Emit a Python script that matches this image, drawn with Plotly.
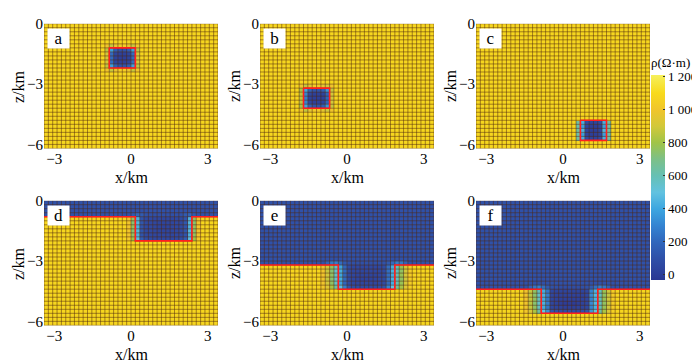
import numpy as np
import plotly.graph_objects as go

# ---------------- data ----------------
X_EDGES = np.round(np.linspace(-3.4, 3.4, 41), 3)      # km, 40 columns
Z_EDGES = np.round(np.linspace(0.0, -6.2, 32), 3)      # km, 31 rows (top -> bottom)

BG = 1080          # half-space resistivity (Ohm m)
LAYER_VAL = 105    # conductive cover layer (bottom row)

# panel a: block patch (rows 5..11, cols 14..21)
a_patch = [
    [1000, 880, 980, 1040, 1040, 980, 880, 1000],
    [860, 380, 160, 110, 110, 160, 380, 860],
    [900, 220, 40, 20, 20, 40, 220, 900],
    [900, 210, 30, 10, 10, 30, 210, 900],
    [900, 220, 40, 20, 20, 40, 220, 900],
    [860, 380, 160, 110, 110, 160, 380, 860],
    [1000, 880, 980, 1040, 1040, 980, 880, 1000],
]
# panel b: block patch (rows 15..21, cols 9..16)
b_patch = [
    [1000, 870, 960, 1030, 1030, 960, 900, 1000],
    [820, 400, 180, 120, 120, 170, 350, 880],
    [860, 300, 50, 20, 20, 40, 200, 900],
    [860, 280, 30, 10, 10, 30, 200, 900],
    [860, 300, 50, 20, 20, 40, 200, 900],
    [820, 400, 180, 120, 120, 170, 350, 880],
    [1000, 870, 960, 1030, 1030, 960, 900, 1000],
]
# panel c: block patch (rows 24..28, cols 23..30)
c_patch = [
    [640, 430, 80, 40, 40, 80, 430, 640],
    [620, 380, 40, 10, 10, 40, 380, 620],
    [640, 450, 40, 10, 10, 40, 450, 640],
    [620, 380, 40, 10, 10, 40, 380, 620],
    [640, 430, 80, 40, 40, 80, 430, 640],
]
# panel d: trough patch (rows 3..9, cols 19..35), cover layer rows 0..3
d_patch = [
    [110, 140, 200, 150, 110, 100, 100, 100, 100, 100, 100, 100, 110, 150, 200, 140, 110],
    [1000, 760, 440, 120, 70, 60, 50, 50, 50, 50, 50, 60, 70, 120, 440, 760, 1000],
    [1000, 740, 460, 130, 70, 60, 50, 40, 40, 40, 50, 60, 70, 130, 460, 740, 1000],
    [1000, 760, 440, 120, 70, 60, 50, 40, 30, 40, 50, 60, 70, 120, 440, 760, 1000],
    [1000, 740, 460, 130, 70, 60, 50, 40, 40, 40, 50, 60, 70, 130, 460, 740, 1000],
    [1000, 760, 440, 120, 70, 60, 50, 50, 50, 50, 50, 60, 70, 120, 440, 760, 1000],
    [1020, 800, 480, 160, 90, 70, 60, 60, 60, 60, 60, 70, 90, 160, 480, 800, 1020],
]
# panel e: trough patch (rows 15..21, cols 14..34), cover layer rows 0..15
e_patch = [
    [110, 180, 260, 280, 220, 140, 110, 100, 100, 100, 100, 100, 100, 100, 110, 140, 220, 280, 260, 180, 110],
    [1000, 900, 760, 560, 400, 200, 80, 60, 60, 60, 60, 60, 60, 60, 80, 220, 420, 600, 780, 920, 1040],
    [1000, 880, 740, 540, 420, 210, 70, 50, 50, 50, 50, 50, 50, 50, 70, 230, 440, 580, 760, 900, 1040],
    [1000, 900, 760, 560, 400, 200, 70, 50, 40, 40, 40, 40, 40, 50, 70, 220, 420, 600, 780, 920, 1040],
    [1000, 880, 740, 540, 420, 210, 70, 50, 40, 30, 30, 30, 40, 50, 70, 230, 440, 580, 760, 900, 1040],
    [1000, 900, 760, 560, 400, 200, 80, 60, 50, 50, 50, 50, 50, 60, 80, 220, 420, 600, 780, 920, 1040],
    [1020, 940, 820, 640, 480, 280, 120, 90, 80, 80, 80, 80, 80, 90, 120, 300, 500, 660, 820, 950, 1050],
]
# panel f: trough patch (rows 21..27, cols 11..31), cover layer rows 0..21
f_patch = [
    [110, 180, 250, 280, 230, 150, 110, 100, 90, 90, 90, 90, 90, 100, 110, 150, 230, 280, 250, 180, 110],
    [1000, 880, 760, 580, 420, 260, 60, 40, 40, 40, 40, 40, 40, 40, 60, 300, 440, 600, 780, 900, 1040],
    [1000, 860, 740, 560, 440, 280, 50, 30, 30, 30, 30, 30, 30, 30, 50, 320, 460, 580, 760, 880, 1040],
    [1000, 880, 760, 580, 420, 260, 50, 30, 20, 20, 20, 20, 20, 30, 50, 300, 440, 600, 780, 900, 1040],
    [1000, 860, 740, 560, 440, 280, 50, 30, 10, 0, 0, 0, 10, 30, 50, 320, 460, 580, 760, 880, 1040],
    [1000, 880, 760, 580, 420, 260, 60, 40, 30, 20, 20, 20, 30, 40, 60, 300, 440, 600, 780, 900, 1040],
    [1020, 920, 820, 660, 500, 340, 120, 90, 80, 80, 80, 80, 80, 90, 120, 360, 520, 660, 820, 930, 1050],
]

PANELS = [
    dict(label="a", layer=0, r0=5, c0=14, patch=a_patch,
         bx=[-0.85, 0.17, 0.17, -0.85, -0.85], bz=[-1.2, -1.2, -2.2, -2.2, -1.2]),
    dict(label="b", layer=0, r0=15, c0=9, patch=b_patch,
         bx=[-1.7, -0.68, -0.68, -1.7, -1.7], bz=[-3.2, -3.2, -4.2, -4.2, -3.2]),
    dict(label="c", layer=0, r0=24, c0=23, patch=c_patch,
         bx=[0.68, 1.7, 1.7, 0.68, 0.68], bz=[-4.8, -4.8, -5.8, -5.8, -4.8]),
    dict(label="d", layer=4, r0=3, c0=19, patch=d_patch,
         bx=[-3.4, 0.17, 0.17, 2.38, 2.38, 3.4], bz=[-0.8, -0.8, -2.0, -2.0, -0.8, -0.8]),
    dict(label="e", layer=16, r0=15, c0=14, patch=e_patch,
         bx=[-3.4, -0.34, -0.34, 1.87, 1.87, 3.4], bz=[-3.2, -3.2, -4.4, -4.4, -3.2, -3.2]),
    dict(label="f", layer=22, r0=21, c0=11, patch=f_patch,
         bx=[-3.4, -0.85, -0.85, 1.36, 1.36, 3.4], bz=[-4.4, -4.4, -5.6, -5.6, -4.4, -4.4]),
]

X_TICKS = [-3, 0, 3]
Z_TICKS = [0, -3, -6]
CB_TICKS = [0, 200, 400, 600, 800, 1000, 1200]
CB_TEXT = ["0", "200", "400", "600", "800", "1 000", "1 200"]

# ---------------- figure ----------------
W, H = 700, 362
COL_LEFT = [36, 252, 468]
ROW_TOP = [8, 191]
PW, PH = 174, 129
FONT = "Liberation Serif, Times New Roman, serif"

colorscale = [
    [-30, "#2A3792"], [0, "#2C3D98"], [100, "#2F50A8"], [200, "#3066BC"],
    [300, "#3484D2"], [400, "#3DA6E0"], [500, "#62C2E0"], [600, "#66C0B4"],
    [700, "#7CC088"], [800, "#A0C448"], [900, "#D2C83A"], [1000, "#F0C52C"],
    [1100, "#F8DA1C"], [1210, "#F6F05C"],
]
cmin, cmax = -30, 1210
cs = [[(v - cmin) / (cmax - cmin), c] for v, c in colorscale]

fig = go.Figure()
nrow, ncol = len(Z_EDGES) - 1, len(X_EDGES) - 1

gx, gy = [], []
for xe in X_EDGES:
    gx += [xe, xe, None]
    gy += [Z_EDGES[0], Z_EDGES[-1], None]
for ze in Z_EDGES:
    gx += [X_EDGES[0], X_EDGES[-1], None]
    gy += [ze, ze, None]

annotations = []
for i, p in enumerate(PANELS):
    model = np.full((nrow, ncol), float(BG))
    model[:p["layer"], :] = LAYER_VAL
    patch = np.array(p["patch"], dtype=float)
    model[p["r0"]:p["r0"] + patch.shape[0], p["c0"]:p["c0"] + patch.shape[1]] = patch

    ax = "" if i == 0 else str(i + 1)
    xa, ya = "x" + ax, "y" + ax
    fig.add_trace(go.Heatmap(
        x=X_EDGES, y=Z_EDGES[::-1], z=model[::-1], coloraxis="coloraxis",
        xaxis=xa, yaxis=ya, hoverinfo="skip"))
    fig.add_trace(go.Scatter(
        x=gx, y=gy, mode="lines", xaxis=xa, yaxis=ya, hoverinfo="skip",
        line=dict(color="rgba(80,40,15,0.5)", width=1), showlegend=False))
    fig.add_trace(go.Scatter(
        x=p["bx"], y=p["bz"], mode="lines", xaxis=xa, yaxis=ya, hoverinfo="skip",
        line=dict(color="#FF1E1E", width=1.6), showlegend=False))

    r, c = divmod(i, 3)
    x0 = COL_LEFT[c] / W
    x1 = (COL_LEFT[c] + PW) / W
    y1 = 1 - ROW_TOP[r] / H
    y0 = 1 - (ROW_TOP[r] + PH) / H
    common = dict(showgrid=False, zeroline=False, showline=False, ticks="",
                  tickfont=dict(family=FONT, size=15, color="black"))
    fig.update_layout(**{
        "xaxis" + ax: dict(domain=[x0, x1], range=[X_EDGES[0], X_EDGES[-1]],
                           tickvals=X_TICKS, anchor=ya, **common),
        "yaxis" + ax: dict(domain=[y0, y1], range=[Z_EDGES[-1], Z_EDGES[0]],
                           tickvals=Z_TICKS, anchor=xa, **common),
    })
    dom_x, dom_y = xa + " domain", ya + " domain"
    annotations.append(dict(xref=dom_x, yref=dom_y, x=3 / PW, y=1 - 4 / PH,
                            xanchor="left", yanchor="top", text=p["label"],
                            showarrow=False, bgcolor="white", width=19, height=17,
                            borderpad=1, font=dict(family=FONT, size=17, color="black")))
    annotations.append(dict(xref=dom_x, yref=dom_y, x=0.5, y=-19 / PH,
                            xanchor="center", yanchor="top", text="x/km",
                            showarrow=False, font=dict(family=FONT, size=16, color="black")))
    annotations.append(dict(xref=dom_x, yref=dom_y, x=-26 / PW, y=0.5,
                            xanchor="center", yanchor="middle", text="z/km", textangle=-90,
                            showarrow=False, font=dict(family=FONT, size=16, color="black")))

fig.update_layout(
    width=W, height=H, autosize=False,
    margin=dict(l=0, r=0, t=0, b=0),
    paper_bgcolor="white", plot_bgcolor="white",
    showlegend=False,
    font=dict(family=FONT, color="black"),
    annotations=annotations,
    coloraxis=dict(
        cmin=cmin, cmax=cmax, colorscale=cs,
        colorbar=dict(
            x=643 / W, xanchor="left", xpad=0,
            y=1 - 40 / H, yanchor="top", ypad=0,
            len=225, lenmode="pixels", thickness=14, thicknessmode="pixels",
            outlinewidth=0, ticks="inside", ticklen=2, tickcolor="#333",
            tickvals=CB_TICKS, ticktext=CB_TEXT,
            tickfont=dict(family=FONT, size=13, color="black"),
            title=dict(text="ρ(Ω·m)", side="top",
                       font=dict(family=FONT, size=13, color="black")),
        ),
    ),
)

fig.write_html("out.html")
